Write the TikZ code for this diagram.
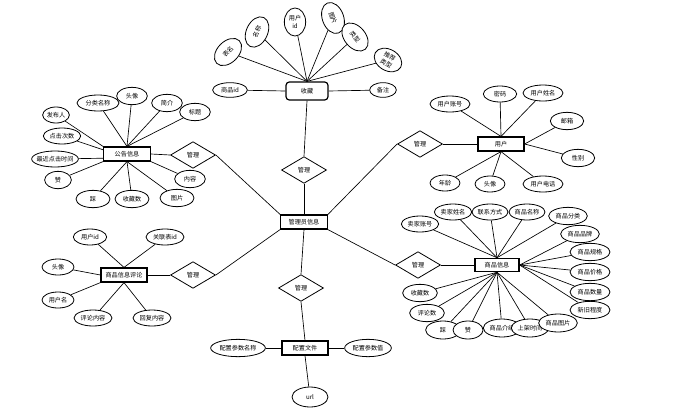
\documentclass[tikz,border=0pt]{standalone}
\usepackage{fontspec}
\newfontfamily\cjk{Noto Sans CJK SC}
\usetikzlibrary{shapes.geometric}
\newcommand{\zh}{\cjk\fontsize{4.6}{5.4}\selectfont}
\pgfdeclarelayer{background}
\pgfsetlayers{background,main}
\tikzset{
  ent/.style={draw, line width=0.9pt, fill=white, minimum width=34.5pt, minimum height=10.5pt, inner sep=0pt, font=\zh},
  rel/.style={draw, diamond, line width=0.6pt, fill=white, minimum width=33.75pt, minimum height=20pt, inner sep=0pt, font=\zh},
  att/.style={draw, ellipse, line width=0.6pt, fill=white, minimum width=#1, minimum height=12pt, inner xsep=-3pt, inner ysep=0pt, font=\zh},
  att/.default=24pt,
  lk/.style={line width=0.5pt}
}
\begin{document}
\begin{tikzpicture}[x=0.75pt,y=-0.75pt]
\useasboundingbox (0,0) rectangle (688,414);

% ---------- 收藏 ----------
\node[ent, rounded corners=2.5pt, minimum width=31.5pt, minimum height=13.5pt] (sc) at (307,91) {收藏};
\node[att=24pt, minimum height=16pt, rotate=45] (sc1) at (228,52) {表名};
\node[att=24pt, minimum height=16pt, rotate=65] (sc2) at (257,32) {名称};
\node[att=16pt, minimum height=21pt, align=center, inner xsep=0pt] (sc3) at (295,22) {用户\\id};
\node[att=24pt, minimum height=16pt, rotate=-70] (sc4) at (333,18) {图片};
\node[att=24pt, minimum height=16pt, rotate=-50] (sc5) at (355,37) {类型};
\node[att=22pt, minimum height=16pt, rotate=-30, align=center, inner xsep=0pt] (sc6) at (388,60) {推荐\\类型};
\node[att=26pt, minimum height=11pt] (sc7) at (230,90) {商品id};
\node[att=20pt, minimum height=11pt] (sc8) at (383,90) {备注};

% ---------- 公告信息 ----------
\node[ent, minimum width=35pt] (gg) at (127,154) {公告信息};
\node[att=20pt] (gg1) at (56,115) {发布人};
\node[att=31.5pt] (gg2) at (98,103) {分类名称};
\node[att=23pt, minimum height=13pt] (gg3) at (132,96) {头像};
\node[att=23pt, minimum height=13pt] (gg4) at (167,103) {简介};
\node[att=23pt, minimum height=13pt] (gg5) at (195,112) {标题};
\node[att=28pt] (gg6) at (62,136) {点击次数};
\node[att=35pt] (gg7) at (55,159) {最近点击时间};
\node[att=20pt, minimum height=13pt] (gg8) at (58,180) {赞};
\node[att=25.5pt, minimum height=13pt] (gg9) at (93,199) {踩};
\node[att=25.5pt, minimum height=13pt] (gg10) at (132,199) {收藏数};
\node[att=25.5pt, minimum height=13pt] (gg11) at (177,198) {图片};
\node[att=23pt, minimum height=13pt] (gg12) at (190,179) {内容};
\node[rel] (d1) at (193,155) {管理};

% ---------- 用户 ----------
\node[ent] (yh) at (501,144) {用户};
\node[rel] (d2) at (420,144) {管理};
\node[att=30pt] (yh1) at (450,104) {用户账号};
\node[att=25pt] (yh2) at (500,94) {密码};
\node[att=30pt] (yh3) at (543,93) {用户姓名};
\node[att=25pt, minimum height=13pt] (yh4) at (567,121) {邮箱};
\node[att=25pt, minimum height=13pt] (yh5) at (578,158) {性别};
\node[att=30pt] (yh6) at (543,184) {用户电话};
\node[att=22.5pt] (yh7) at (490,184) {头像};
\node[att=22.5pt] (yh8) at (445,183) {年龄};

% ---------- 管理员信息 ----------
\node[ent, minimum width=35pt] (gly) at (304,222) {管理员信息};
\node[rel] (d0) at (304,170) {管理};

% ---------- 商品信息评论 ----------
\node[ent] (pl) at (124,275) {商品信息评论};
\node[rel] (d3) at (193,275) {管理};
\node[att=25pt] (pl1) at (90,237) {用户id};
\node[att=28.5pt] (pl2) at (165,237) {关联表id};
\node[att=24pt] (pl3) at (58,267) {头像};
\node[att=24pt] (pl4) at (58,300) {用户名};
\node[att=28.5pt] (pl5) at (93,318) {评论内容};
\node[att=28.5pt] (pl6) at (152,318) {回复内容};

% ---------- 配置文件 ----------
\node[ent] (pz) at (305,348) {配置文件};
\node[rel] (d5) at (301,288) {管理};
\node[att=41pt, minimum height=13pt] (pz1) at (238,348) {配置参数名称};
\node[att=35pt, minimum height=13pt] (pz2) at (368,348) {配置参数值};
\node[att=27pt, minimum height=15pt] (pz3) at (310,397) {url};

% ---------- 商品信息 ----------
\node[ent, minimum width=33pt, minimum height=10pt] (sp) at (497,265) {商品信息};
\node[rel] (d4) at (418,265) {管理};
\node[att=28pt] (sp1) at (420,224) {卖家账号};
\node[att=28pt] (sp2) at (453,212) {卖家姓名};
\node[att=27pt] (sp3) at (490,212) {联系方式};
\node[att=27pt] (sp4) at (527,212) {商品名称};
\node[att=29pt, minimum height=13pt] (sp5) at (568,216) {商品分类};
\node[att=29pt, minimum height=13pt] (sp6) at (580,234) {商品品牌};
\node[att=30pt, minimum height=13pt] (sp7) at (590,252) {商品规格};
\node[att=30pt, minimum height=13pt] (sp8) at (590,272) {商品价格};
\node[att=30pt, minimum height=13pt] (sp9) at (590,292) {商品数量};
\node[att=30pt, minimum height=13pt] (sp10) at (590,310) {新旧程度};
\node[att=26pt, minimum height=13pt] (sp11) at (420,293) {收藏数};
\node[att=26pt, minimum height=13pt] (sp12) at (427,313) {评论数};
\node[att=26pt, minimum height=13.5pt] (sp13) at (443,330) {踩};
\node[att=22.5pt, minimum height=13.5pt] (sp14) at (468,330) {赞};
\node[att=28pt, minimum height=13.5pt] (sp15) at (502,328) {商品介绍};
\node[att=28pt, minimum height=13.5pt] (sp16) at (530,328) {上架时间};
\node[att=29pt, minimum height=13.5pt] (sp17) at (558,323) {商品图片};

\begin{pgfonlayer}{background}
% 收藏
\foreach \a in {sc1,sc2,sc3,sc4,sc5,sc6} \draw[lk] (sc.north) -- (\a);
\draw[lk] (sc.west) -- (sc7);
\draw[lk] (sc.east) -- (sc8);
\draw[lk] (sc.south) -- (d0.north);
\draw[lk] (d0.south) -- (gly.north);
% 公告信息
\draw[lk] (gg.north west) -- (gg1);
\foreach \a in {gg2,gg3,gg4,gg5} \draw[lk] (gg.north) -- (\a);
\draw[lk] (gg.170) -- (gg6);
\draw[lk] (gg.190) -- (gg7);
\draw[lk] (gg.south west) -- (gg8);
\foreach \a in {gg9,gg10,gg11} \draw[lk] (gg.south) -- (\a);
\draw[lk] (gg.south east) -- (gg12);
\draw[lk] (gg.east) -- (d1.west);
\draw[lk] (d1.east) -- (gly.north west);
% 用户
\foreach \a in {yh1,yh2,yh3} \draw[lk] (yh.north) -- (\a);
\foreach \a in {yh4,yh5} \draw[lk] (yh.east) -- (\a);
\foreach \a in {yh6,yh7,yh8} \draw[lk] (yh.south) -- (\a);
\draw[lk] (d2.east) -- (yh.west);
\draw[lk] (d2.west) -- (gly.north east);
% 商品信息评论
\foreach \a in {pl1,pl2} \draw[lk] (pl.north) -- (\a);
\draw[lk] (pl.west) -- (pl3);
\draw[lk] (pl.south west) -- (pl4);
\foreach \a in {pl5,pl6} \draw[lk] (pl.south) -- (\a);
\draw[lk] (pl.east) -- (d3.west);
\draw[lk] (d3.east) -- (gly.south west);
% 配置文件
\draw[lk] (gly.south) -- (d5.north);
\draw[lk] (d5.south) -- (pz.north);
\draw[lk] (pz.west) -- (pz1);
\draw[lk] (pz.east) -- (pz2);
\draw[lk] (pz.south) -- (pz3);
% 商品信息
\foreach \a in {sp1,sp2,sp3,sp4,sp5} \draw[lk] (sp.north) -- (\a);
\foreach \a in {sp6,sp7,sp8,sp9,sp10} \draw[lk] (sp.east) -- (\a);
\foreach \a in {sp11,sp12,sp13,sp14,sp15,sp16,sp17} \draw[lk] (sp.south) -- (\a);
\draw[lk] (d4.east) -- (sp.west);
\draw[lk] (d4.west) -- (gly.south east);
\end{pgfonlayer}
\end{tikzpicture}
\end{document}
